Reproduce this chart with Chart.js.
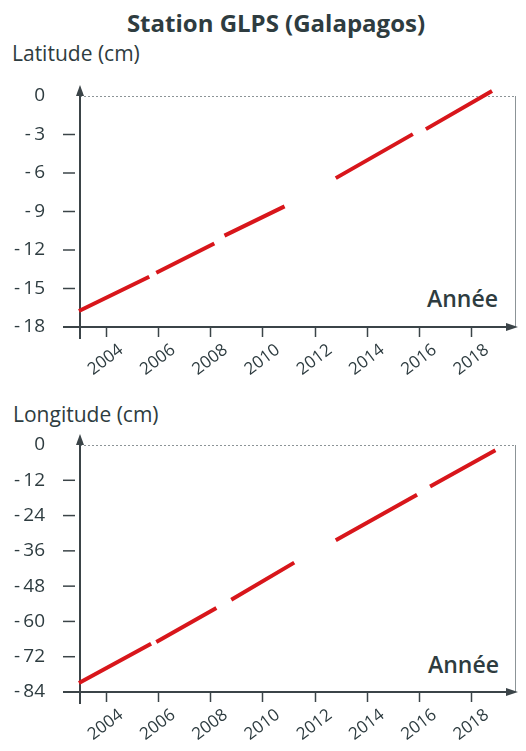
<!DOCTYPE html>
<html>
<head>
<meta charset="utf-8">
<script src="https://cdn.jsdelivr.net/npm/chart.js@4.4.1/dist/chart.umd.min.js"></script>
<style>
  body { margin: 0; background: #fff; }
  #page { position: relative; width: 526px; height: 751px; overflow: hidden; font-family: "Open Sans", sans-serif; color: #2e3c40; }
  .txt { position: absolute; line-height: 1; white-space: nowrap; }
  canvas { position: absolute; left: 0; }
</style>
</head>
<body>
<div id="page">
  <div class="txt" style="left:276px; top:11px; font-size:24px; font-weight:bold; transform:translateX(-50%);">Station GLPS (Galapagos)</div>
  <div class="txt" style="left:12px; top:43px; font-size:21px;">Latitude (cm)</div>
  <div class="txt" style="left:13px; top:404px; font-size:21px;">Longitude (cm)</div>
  <div class="txt" style="left:427px; top:287px; font-size:23px; font-weight:600;">Année</div>
  <div class="txt" style="left:428px; top:653px; font-size:23px; font-weight:600;">Année</div>
  <div style="width:526px; height:300px; position:absolute; top:80px;"><canvas id="graficoLat"></canvas></div>
  <div style="width:526px; height:321px; position:absolute; top:430px;"><canvas id="graficoLong"></canvas></div>
</div>
<script>
// annees (axe x)
const anneesTicks = [2004, 2006, 2008, 2010, 2012, 2014, 2016, 2018];

// latitude : segments du trait, null = coupure
const anneesLat = [2002.96, 2005.65, 2005.8, 2005.92, 2008.14, 2008.3, 2008.53, 2010.83, 2011.8, 2012.79, 2015.74, 2016.0, 2016.24, 2018.77];
const latitude  = [-16.75, -14.08, null, -13.77, -11.5, null, -10.88, -8.6, null, -6.4, -2.97, null, -2.58, 0.39];
const ticksLat = [0, -3, -6, -9, -12, -15, -18];

// longitude
const anneesLong = [2002.96, 2005.72, 2005.8, 2005.92, 2008.22, 2008.5, 2008.79, 2011.2, 2012.0, 2012.79, 2015.9, 2016.1, 2016.4, 2018.9];
const longitude  = [-80.9, -67.6, null, -67.0, -55.4, null, -52.6, -40.0, null, -32.4, -16.9, null, -14.1, -1.8];
const ticksLong = [0, -12, -24, -36, -48, -60, -72, -84];

const corTexto = '#2e3c40';
const corEixo = '#3b4448';

function montaPontos(xs, ys) {
    return xs.map((x, i) => ({ x: x, y: ys[i] }));
}

function formataTick(v) {
    return v === 0 ? '0' : '-\u2009' + Math.abs(v);
}

const decoracao = {
    id: 'decoracao',
    beforeDatasetsDraw(chart) {
        const ctx = chart.ctx;
        const a = chart.chartArea;
        const y = chart.scales.y;
        function linha(x1, y1, x2, y2) {
            ctx.beginPath(); ctx.moveTo(x1, y1); ctx.lineTo(x2, y2); ctx.stroke();
        }
        ctx.save();
        // bordure haut (pointillés) et droite
        ctx.strokeStyle = '#8c9497';
        ctx.lineWidth = 1;
        ctx.setLineDash([2, 2]);
        linha(a.left, a.top + 0.5, a.right, a.top + 0.5);
        ctx.setLineDash([]);
        linha(a.right + 0.5, a.top, a.right + 0.5, a.bottom);
        // axes
        ctx.strokeStyle = corEixo;
        ctx.fillStyle = corEixo;
        ctx.lineWidth = 2;
        linha(a.left - 17, a.bottom, a.right - 4, a.bottom);
        linha(a.left, a.bottom + 12, a.left, a.top - 4);
        // fleches
        ctx.beginPath();
        ctx.moveTo(a.left, a.top - 11); ctx.lineTo(a.left - 4, a.top); ctx.lineTo(a.left + 4, a.top);
        ctx.closePath(); ctx.fill();
        ctx.beginPath();
        ctx.moveTo(a.right + 3, a.bottom); ctx.lineTo(a.right - 9, a.bottom - 4); ctx.lineTo(a.right - 9, a.bottom + 4);
        ctx.closePath(); ctx.fill();
        // graduations y
        ctx.lineWidth = 1.5;
        y.ticks.forEach(t => {
            if (t.value === y.min || t.value === y.max) return;
            const py = y.getPixelForValue(t.value);
            linha(a.left - 17, py, a.left - 5, py);
        });
        ctx.restore();
    }
};

function criaGrafico(canvas, xs, ys, ticksY, minY, alturaX, paddingTop) {
    return new Chart(canvas, {
        type: 'line',
        data: {
            datasets: [{
                data: montaPontos(xs, ys),
                borderColor: '#d8161b',
                borderWidth: 4,
                borderCapStyle: 'butt',
                pointRadius: 0,
                spanGaps: false,
                clip: false
            }]
        },
        options: {
            responsive: true,
            maintainAspectRatio: false,
            animation: false,
            layout: { padding: { top: paddingTop, right: 11, left: 0, bottom: 0 } },
            plugins: { legend: { display: false }, tooltip: { enabled: false } },
            scales: {
                x: {
                    type: 'linear',
                    min: 2003,
                    max: 2019.65,
                    afterBuildTicks: scale => { scale.ticks = anneesTicks.map(v => ({ value: v })); },
                    afterFit: scale => { scale.height = alturaX; },
                    border: { display: false },
                    grid: { drawOnChartArea: false, drawTicks: true, tickLength: 10, tickColor: corEixo, tickWidth: 1.5 },
                    ticks: {
                        color: corTexto,
                        font: { family: 'Open Sans', size: 17 },
                        minRotation: 37,
                        maxRotation: 37,
                        padding: 3,
                        labelOffset: 15,
                        autoSkip: false,
                        callback: v => String(v)
                    }
                },
                y: {
                    type: 'linear',
                    min: minY,
                    max: 0,
                    afterBuildTicks: scale => { scale.ticks = ticksY.map(v => ({ value: v })); },
                    afterFit: scale => { scale.width = 80; },
                    border: { display: false },
                    grid: { drawOnChartArea: false, drawTicks: true, tickLength: 35, tickColor: 'rgba(0,0,0,0)' },
                    ticks: {
                        color: corTexto,
                        font: { family: 'Open Sans', size: 19 },
                        padding: 0,
                        callback: v => formataTick(v)
                    }
                }
            }
        },
        plugins: [decoracao]
    });
}

const graficoLat = criaGrafico(document.getElementById('graficoLat'), anneesLat, latitude, ticksLat, -18, 53, 16);
const graficoLong = criaGrafico(document.getElementById('graficoLong'), anneesLong, longitude, ticksLong, -84, 59, 15);
</script>
</body>
</html>
